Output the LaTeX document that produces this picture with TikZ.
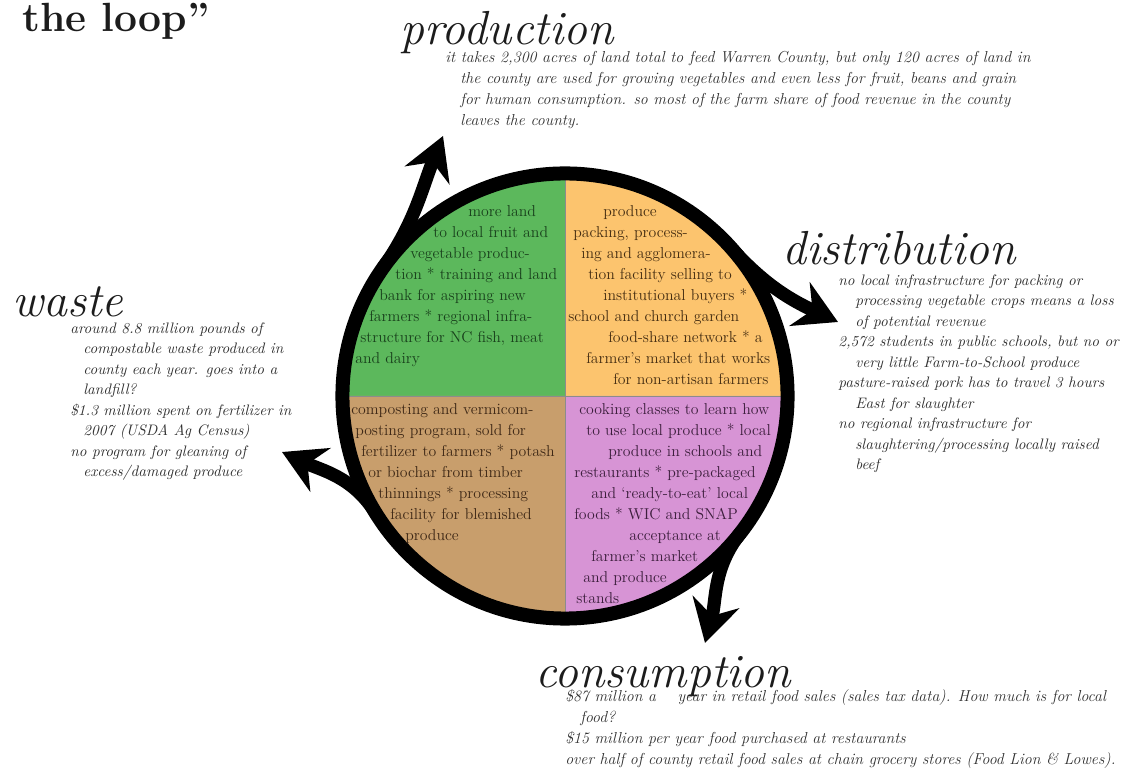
\documentclass[tikz,border=0pt]{standalone}
\usetikzlibrary{arrows.meta}

\newlength\pxl
\setlength\pxl{0.025cm}

\definecolor{qgreen}{RGB}{92,184,92}
\definecolor{qorange}{RGB}{252,196,110}
\definecolor{qtan}{RGB}{200,158,108}
\definecolor{qpink}{RGB}{215,148,213}
\definecolor{tgreen}{RGB}{25,65,28}
\definecolor{torange}{RGB}{70,46,18}
\definecolor{ttan}{RGB}{62,40,22}
\definecolor{tpink}{RGB}{60,30,60}
\definecolor{notegray}{RGB}{48,48,48}
\definecolor{inkblack}{RGB}{28,28,28}

\begin{document}
\begin{tikzpicture}[
    x=0.025cm, y=0.025cm,
    quad/.style={anchor=base west, align=left, inner sep=0pt, text=#1, font=\fontsize{11.2}{14.94}\selectfont},
    note/.style={anchor=base west, align=left, inner sep=0pt, text=notegray, font=\itshape\fontsize{10.8}{14.6}\selectfont},
    bignote/.style={note, font=\itshape\fontsize{11.3}{15.1}\selectfont},
    heading/.style={anchor=base west, inner sep=0pt, text=inkblack, font=\itshape\fontsize{34}{40}\selectfont},
    ring/.style={circle, draw=black, line width=0.35cm, minimum size=11.125cm, inner sep=0pt, outer sep=0pt},
    looparrow/.style={draw=black, line width=0.33cm, -{Stealth[length=30pt, width=34pt, inset=10pt]}},
    divider/.style={draw=black!45, line width=0.6pt}
]
    \useasboundingbox (0,0) rectangle (1140,771);

    % Quadrants
    \coordinate (hub) at (565,375);
    \fill[qgreen] (hub) -- ++(90:5.5625cm) arc[start angle=90, end angle=180, radius=5.5625cm] -- cycle;
    \fill[qorange] (hub) -- ++(0:5.5625cm) arc[start angle=0, end angle=90, radius=5.5625cm] -- cycle;
    \fill[qpink] (hub) -- ++(-90:5.5625cm) arc[start angle=-90, end angle=0, radius=5.5625cm] -- cycle;
    \fill[qtan] (hub) -- ++(180:5.5625cm) arc[start angle=180, end angle=270, radius=5.5625cm] -- cycle;
    \draw[divider] ([yshift=5.5cm]hub) -- ([yshift=-5.5cm]hub);
    \draw[divider] ([xshift=-5.5cm]hub) -- ([xshift=5.5cm]hub);

    % Ring
    \node[ring] (loop) at (hub) {};

    % Arrow ends
    \coordinate (prodtip) at (443,635);
    \coordinate (disttip) at (838,449);
    \coordinate (constip) at (705,128);
    \coordinate (wastetip) at (282,319);

    % Cycle arrows
    \draw[looparrow] (loop.145) to[out=55, in=-112] (prodtip);
    \draw[looparrow] (loop.42) to[out=-48, in=155] (disttip);
    \draw[looparrow] (loop.-38) to[out=-128, in=75] (constip);
    \draw[looparrow] (loop.212) to[out=122, in=-25] (wastetip);

    % Title and headings
    \node[anchor=base west, inner sep=0pt, text=inkblack, font=\bfseries\fontsize{29}{34}\selectfont] (looptitle) at (22,739) {the loop''};
    \node[heading] (prodhead) at (400,726) {production};
    \node[heading] (disthead) at (782,506) {distribution};
    \node[heading] (wastehead) at (12,454) {waste};
    \node[heading] (conshead) at (535,83) {consumption};

    % Notes (placed by their last line)
    \node[bignote] (prodnote) at (445,645) {it takes 2,300 acres of land total to feed Warren County, but only 120 acres of land in\\
        \hspace*{15\pxl}the county are used for growing vegetables and even less for fruit, beans and grain\\
        \hspace*{15\pxl}for human consumption. so most of the farm share of food revenue in the county\\
        \hspace*{15\pxl}leaves the county.};
    \node[note] (distnote) at (838,301) {no local infrastructure for packing or\\
        \hspace*{17\pxl}processing vegetable crops means a loss\\
        \hspace*{17\pxl}of potential revenue\\
        2,572 students in public schools, but no or\\
        \hspace*{17\pxl}very little Farm-to-School produce\\
        pasture-raised pork has to travel 3 hours\\
        \hspace*{17\pxl}East for slaughter\\
        no regional infrastructure for\\
        \hspace*{17\pxl}slaughtering/processing locally raised\\
        \hspace*{17\pxl}beef};
    \node[note] (wastenote) at (70,294) {around 8.8 million pounds of\\
        \hspace*{13\pxl}compostable waste produced in\\
        \hspace*{13\pxl}county each year. goes into a\\
        \hspace*{13\pxl}landfill?\\
        \$1.3 million spent on fertilizer in\\
        \hspace*{13\pxl}2007 (USDA Ag Census)\\
        no program for gleaning of\\
        \hspace*{13\pxl}excess/damaged produce};
    \node[bignote] (consnote) at (565,6) {\$87 million a\hspace*{16\pxl} year in retail food sales (sales tax data). How much is for local\\
        \hspace*{15\pxl}food?\\
        \$15 million per year food purchased at restaurants\\
        over half of county retail food sales at chain grocery stores (Food Lion \& Lowes).};

    % Quadrant texts (placed by their last line)
    \node[quad=tgreen] (landtext) at (355,407) {\hspace*{113\pxl}more land\\
        \hspace*{78\pxl}to local fruit and\\
        \hspace*{55\pxl}vegetable produc-\\
        \hspace*{40\pxl}tion * training and land\\
        \hspace*{24\pxl}bank for aspiring new\\
        \hspace*{14\pxl}farmers * regional infra-\\
        \hspace*{5\pxl}structure for NC fish, meat\\
        and dairy};
    \node[quad=torange] (packtext) at (568,386) {\hspace*{35\pxl}produce\\
        \hspace*{5\pxl}packing, process-\\
        \hspace*{13\pxl}ing and agglomera-\\
        \hspace*{20\pxl}tion facility selling to\\
        \hspace*{35\pxl}institutional buyers *\\
        school and church garden\\
        \hspace*{40\pxl}food-share network * a\\
        \hspace*{18\pxl}farmer's market that works\\
        \hspace*{45\pxl}for non-artisan farmers};
    \node[quad=ttan] (compostext) at (351,230) {composting and vermicom-\\
        \hspace*{4\pxl}posting program, sold for\\
        \hspace*{10\pxl}fertilizer to farmers * potash\\
        \hspace*{17\pxl}or biochar from timber\\
        \hspace*{27\pxl}thinnings * processing\\
        \hspace*{39\pxl}facility for blemished\\
        \hspace*{54\pxl}produce};
    \node[quad=tpink] (cooktext) at (574,167) {\hspace*{5\pxl}cooking classes to learn how\\
        \hspace*{12\pxl}to use local produce * local\\
        \hspace*{34\pxl}produce in schools and\\
        restaurants * pre-packaged\\
        \hspace*{17\pxl}and `ready-to-eat' local\\
        foods * WIC and SNAP\\
        \hspace*{55\pxl}acceptance at\\
        \hspace*{17\pxl}farmer's market\\
        \hspace*{9\pxl}and produce\\
        \hspace*{2\pxl}stands};
\end{tikzpicture}
\end{document}
